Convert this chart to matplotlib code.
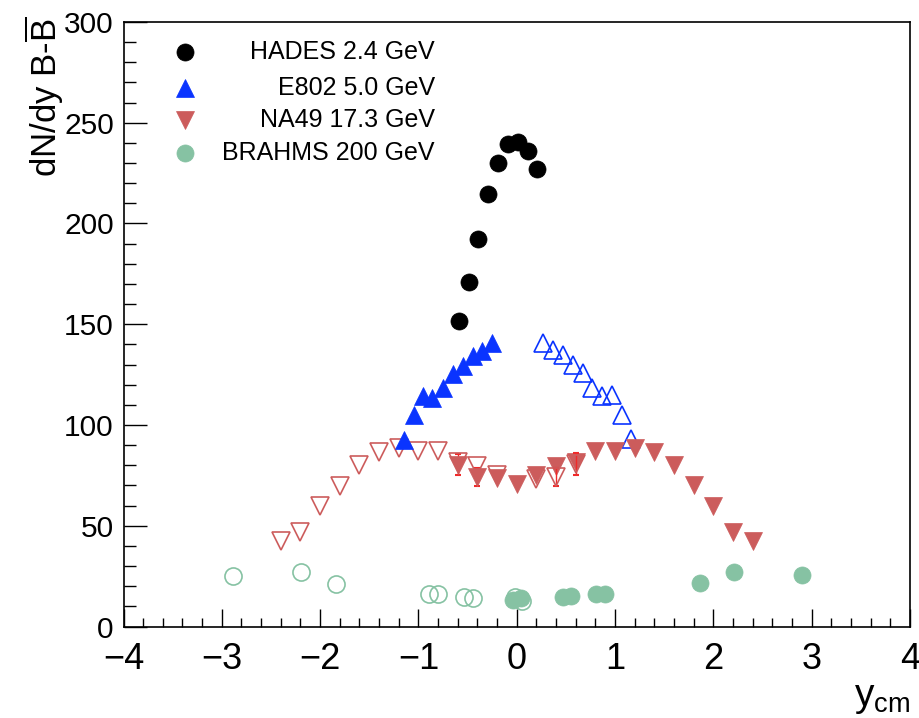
import matplotlib
matplotlib.use("Agg")
import matplotlib.pyplot as plt
from matplotlib.ticker import MultipleLocator
import numpy as np

plt.rcParams['font.family'] = ['Liberation Sans', 'DejaVu Sans']
plt.rcParams['mathtext.fontset'] = 'custom'
plt.rcParams['mathtext.rm'] = 'Liberation Sans'
plt.rcParams['mathtext.it'] = 'Liberation Sans:italic'

# ---------------- data ----------------
hades_x = [-0.59, -0.49, -0.39, -0.29, -0.19, -0.09, 0.01, 0.11, 0.21]
hades_y = [151.7, 171.0, 192.5, 214.5, 230.2, 239.3, 240.6, 236.1, 227.1]

e802_x = [-1.15, -1.05, -0.95, -0.86, -0.75, -0.65, -0.55, -0.45, -0.35, -0.25]
e802_y = [92.7, 104.8, 114.5, 113.6, 118.3, 125.4, 129.4, 134.4, 136.8, 140.6]
e802_refl_x = [0.27, 0.37, 0.47, 0.57, 0.67, 0.77, 0.87, 0.97, 1.07, 1.16]
e802_refl_y = [140.6, 137.3, 134.8, 129.9, 125.9, 118.5, 114.5, 115.0, 105.0, 93.0]

na49_x = [-0.6, -0.4, -0.2, 0.0, 0.2, 0.4, 0.6, 0.8, 1.0, 1.2, 1.4, 1.6, 1.8, 2.0, 2.2, 2.4]
na49_y = [80.3, 74.4, 73.7, 70.7, 75.0, 79.5, 81.8, 86.9, 87.3, 88.4, 86.6, 80.3, 70.1, 59.8, 46.9, 42.6]
na49_err = [5.3, 4.5, 0, 0, 0, 0, 0, 0, 0, 0, 0, 0, 0, 0, 0, 0]
na49_refl_x = [-2.4, -2.2, -2.0, -1.8, -1.6, -1.4, -1.2, -1.0, -0.8, -0.6, -0.4, -0.2, 0.2, 0.4, 0.6]
na49_refl_y = [42.6, 46.9, 59.6, 69.6, 80.3, 86.6, 88.6, 86.9, 86.9, 81.6, 79.5, 75.4, 73.2, 74.0, 80.7]
na49_refl_err = [0, 0, 0, 0, 0, 0, 0, 0, 0, 0, 0, 0, 0, 4.5, 5.3]

brahms_x = [-0.04, 0.04, 0.47, 0.55, 0.81, 0.90, 1.86, 2.21, 2.90]
brahms_y = [13.4, 14.2, 14.5, 15.0, 15.9, 15.9, 21.7, 27.1, 25.4]
brahms_refl_x = [-2.89, -2.19, -1.84, -0.89, -0.80, -0.54, -0.45, -0.02, 0.05]
brahms_refl_y = [25.3, 26.9, 21.3, 16.2, 16.2, 14.9, 14.2, 14.5, 12.9]

labels = ["HADES 2.4 GeV", "E802 5.0 GeV", "NA49 17.3 GeV", "BRAHMS 200 GeV"]
xtick_labels = ['\u22124', '\u22123', '\u22122', '\u22121', '0', '1', '2', '3', '4']

# ---------------- style ----------------
C_HADES = 'black'
C_E802 = '#0a34ff'
C_NA49 = '#cc5c5c'
C_BRAHMS = '#86c2a3'
C_ERR = '#f02a2a'

MS = 12.3
MEW = 1.2

fig = plt.figure(figsize=(9.19, 7.18), dpi=100)
ax = fig.add_axes([0.1344, 0.1274, 0.8558, 0.842])

def errs(ax, x, y, e, z):
    x = np.asarray(x); y = np.asarray(y); e = np.asarray(e)
    m = e > 0
    ax.errorbar(x[m], y[m], yerr=e[m], fmt='none', ecolor=C_ERR,
                elinewidth=1.0, capsize=2.5, capthick=1.5, zorder=z)

# E802 reflected (open)
ax.plot(e802_refl_x, e802_refl_y, ls='none', marker='^', ms=MS, mfc='none',
        mec=C_E802, mew=MEW, zorder=3)
# NA49 measured (filled)
errs(ax, na49_x, na49_y, na49_err, 3.9)
ax.plot(na49_x, na49_y, ls='none', marker='v', ms=MS, mfc=C_NA49,
        mec=C_NA49, mew=0.5, zorder=4)
# NA49 reflected (open)
errs(ax, na49_refl_x, na49_refl_y, na49_refl_err, 4.9)
ax.plot(na49_refl_x, na49_refl_y, ls='none', marker='v', ms=MS, mfc='none',
        mec=C_NA49, mew=MEW, zorder=5)
# E802 measured (filled)
ax.plot(e802_x, e802_y, ls='none', marker='^', ms=MS, mfc=C_E802,
        mec=C_E802, mew=0.5, zorder=6)
# BRAHMS
ax.plot(brahms_x, brahms_y, ls='none', marker='o', ms=MS, mfc=C_BRAHMS,
        mec=C_BRAHMS, mew=0.5, zorder=4)
ax.plot(brahms_refl_x, brahms_refl_y, ls='none', marker='o', ms=MS, mfc='none',
        mec=C_BRAHMS, mew=MEW, zorder=5)
# HADES
ax.plot(hades_x, hades_y, ls='none', marker='o', ms=MS, mfc=C_HADES,
        mec=C_HADES, mew=0.5, zorder=7)

ax.set_xlim(-4, 4)
ax.set_ylim(0, 300)
ax.set_xticks(np.arange(-4, 5, 1))
ax.set_xticklabels(xtick_labels)
ax.xaxis.set_minor_locator(MultipleLocator(0.2))
ax.yaxis.set_major_locator(MultipleLocator(50))
ax.yaxis.set_minor_locator(MultipleLocator(10))
ax.tick_params(axis='both', which='both', direction='in', top=False, right=False,
               width=1.0, color='black')
ax.tick_params(axis='x', which='major', length=13, labelsize=26, pad=11)
ax.tick_params(axis='x', which='minor', length=6.5)
ax.tick_params(axis='y', which='major', length=16.5, labelsize=21.5, pad=7)
ax.tick_params(axis='y', which='minor', length=8.5)
for s in ax.spines.values():
    s.set_linewidth(1.2)

# axis titles
fig.text(44 / 919, 1 - 17 / 718, r'dN/dy B-$\overline{\mathrm{B}}$', rotation=90,
         ha='center', va='top', fontsize=25)
fig.text(910 / 919, 2 / 718, r'y$_{\mathrm{cm}}$', ha='right', va='bottom', fontsize=28)

# legend (manual, ROOT style with right-aligned text)
leg_y = [0.951, 0.890, 0.838, 0.783]
leg_style = [
    dict(marker='o', mfc=C_HADES, mec=C_HADES),
    dict(marker='^', mfc=C_E802, mec=C_E802),
    dict(marker='v', mfc=C_NA49, mec=C_NA49),
    dict(marker='o', mfc=C_BRAHMS, mec=C_BRAHMS),
]
for yy, st, lab in zip(leg_y, leg_style, labels):
    ax.plot([0.078], [yy], transform=ax.transAxes, ls='none', ms=MS, mew=0.5,
            clip_on=False, zorder=8, **st)
    ax.text(0.396, yy, lab, transform=ax.transAxes, ha='right', va='center',
            fontsize=18)

fig.savefig('out.png', dpi=100)
